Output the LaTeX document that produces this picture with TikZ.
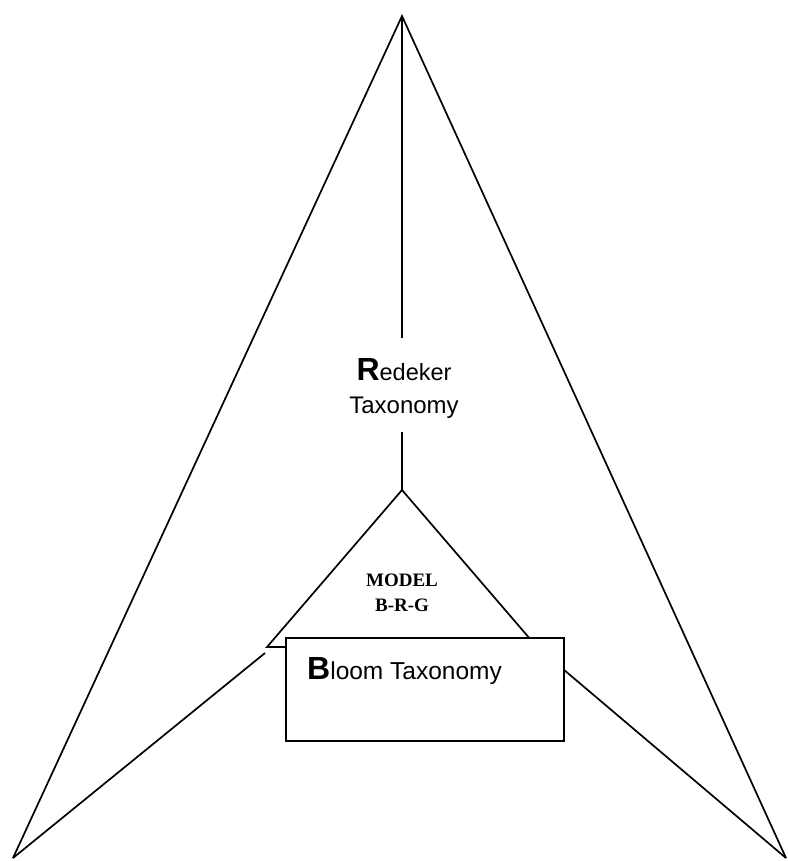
\documentclass[tikz,border=0pt]{standalone}
\usepackage{fontspec}
\setmainfont{Liberation Sans}
\newfontfamily\timesf{Liberation Serif}
\begin{document}
\begin{tikzpicture}[x=1pt,y=-1pt,
  ln/.style={line width=1.7pt,line join=miter},
  txt/.style={inner sep=0pt,anchor=base}]
\useasboundingbox (0,0) rectangle (787,861);
% key points
\coordinate (apex) at (402,16);
\coordinate (bl) at (13,858);
\coordinate (br) at (786,858);
\coordinate (tapex) at (402,490);
\coordinate (tl) at (267,647);
\coordinate (tr) at (537,647);
\coordinate (lend) at (265,653);
\coordinate (vtop) at (402,338);
\coordinate (vbot) at (402,432);
% outer arrow shape
\draw[ln] (bl) -- (apex) -- (br);
\draw[ln] (bl) -- (lend);
\draw[ln] (br) -- (tr);
% inner triangle
\draw[ln] (tl) -- (tapex) -- (tr) -- cycle;
% vertical line
\draw[ln] (apex) -- (vtop);
\draw[ln] (vbot) -- (tapex);
% box
\node[draw,line width=1.7pt,fill=white,minimum width=278pt,minimum height=103pt,inner sep=0pt,anchor=north west] (box) at (285,637) {};
% texts
\node[txt] (red1) at (404,380) {{\fontsize{32}{32}\selectfont\bfseries R}{\fontsize{23.5}{24}\selectfont edeker}};
\node[txt] (red2) at (404,413) {\fontsize{24}{24}\selectfont Taxonomy};
\node[txt] (model) at (402,586) {\timesf\bfseries\fontsize{19}{20}\selectfont MODEL};
\node[txt] (brg) at (402,611) {\timesf\bfseries\fontsize{19}{20}\selectfont B-R-G};
\node[inner sep=0pt,anchor=base west] (bloom) at (307,679) {{\fontsize{32}{32}\selectfont\bfseries B}{\fontsize{24.5}{25}\selectfont loom Taxonomy}};
\end{tikzpicture}
\end{document}
